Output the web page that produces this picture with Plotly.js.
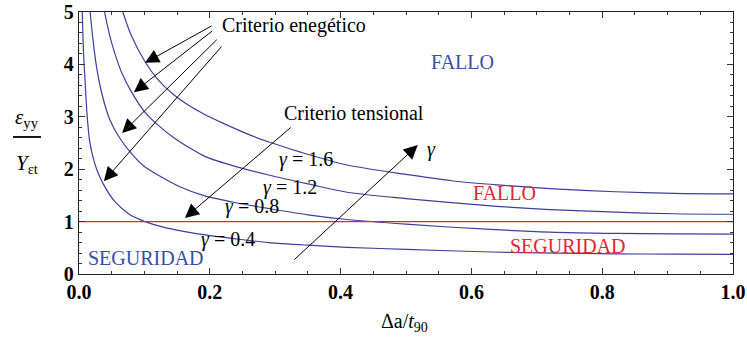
<!DOCTYPE html>
<html><head><meta charset="utf-8">
<script src="https://cdn.plot.ly/plotly-3.0.1.min.js"></script>
<style>html,body{margin:0;padding:0;background:#fff}#c{width:747px;height:350px}</style>
</head><body><div id="c"></div>
<script>
// Data
const gammaLabels = ['γ = 0.4', 'γ = 0.8', 'γ = 1.2', 'γ = 1.6'];
const x_g04 = [0.005, 0.007, 0.009, 0.012, 0.016, 0.021, 0.027, 0.037, 0.055, 0.078, 0.101, 0.13, 0.162, 0.19, 0.24, 0.29, 0.35, 0.41, 0.5, 0.63, 0.73, 0.82, 0.91, 1.0];
const y_g04 = [5.0, 4.2, 3.75, 3.1, 2.56, 2.25, 2.0, 1.72, 1.38, 1.13, 1.0, 0.89, 0.81, 0.75, 0.67, 0.60, 0.55, 0.51, 0.47, 0.42, 0.40, 0.385, 0.38, 0.375];
const x_g08 = [0.017, 0.022, 0.027, 0.035, 0.047, 0.062, 0.08, 0.1, 0.126, 0.155, 0.19, 0.24, 0.29, 0.35, 0.41, 0.5, 0.63, 0.72, 0.82, 0.91, 1.0];
const y_g08 = [5.0, 4.4, 3.94, 3.44, 2.95, 2.6, 2.3, 2.05, 1.85, 1.66, 1.5, 1.36, 1.25, 1.13, 1.04, 0.95, 0.85, 0.8, 0.775, 0.765, 0.76];
const x_g12 = [0.039, 0.047, 0.055, 0.065, 0.08, 0.1, 0.12, 0.145, 0.17, 0.193, 0.24, 0.29, 0.35, 0.41, 0.5, 0.63, 0.72, 0.82, 0.91, 1.0];
const y_g12 = [5.0, 4.55, 4.2, 3.85, 3.48, 3.1, 2.85, 2.6, 2.4, 2.24, 2.05, 1.89, 1.72, 1.56, 1.44, 1.3, 1.23, 1.18, 1.15, 1.14];
const x_g16 = [0.067, 0.08, 0.101, 0.12, 0.145, 0.17, 0.19, 0.22, 0.26, 0.3, 0.34, 0.41, 0.5, 0.57, 0.64, 0.72, 0.82, 0.91, 1.0];
const y_g16 = [5.0, 4.55, 4.05, 3.72, 3.42, 3.2, 3.06, 2.88, 2.66, 2.48, 2.32, 2.08, 1.9, 1.78, 1.70, 1.63, 1.57, 1.54, 1.53];
const x_limit = [0, 1];
const y_limit = [1, 1];
const xTickVals = [0, 0.2, 0.4, 0.6, 0.8, 1.0];
const xTickText = ['0.0', '0.2', '0.4', '0.6', '0.8', '1.0'];
const yTickVals = [0, 1, 2, 3, 4, 5];

const curveColor = '#3c3f9c';
const serif = '"Liberation Serif", serif';
const curves = [[x_g04, y_g04], [x_g08, y_g08], [x_g12, y_g12], [x_g16, y_g16]];
const traces = curves.map((c, i) => ({
  x: c[0], y: c[1], type: 'scatter', mode: 'lines', name: gammaLabels[i],
  line: {color: curveColor, width: 1.2, shape: 'spline', smoothing: 0.8}, hoverinfo: 'skip'
}));
traces.push({x: x_limit, y: y_limit, type: 'scatter', mode: 'lines', name: 'límite',
  line: {color: '#e3262f', width: 1.2}, hoverinfo: 'skip'});

function txt(x, y, text, size, color, extra) {
  return Object.assign({x: x, y: y, xref: 'x', yref: 'y', text: text, showarrow: false,
    font: {family: serif, size: size, color: color}}, extra || {});
}
function arrow(x0, y0, x1, y1) {
  return {x: x1, y: y1, ax: x0, ay: y0, xref: 'x', yref: 'y', axref: 'x', ayref: 'y',
    text: '', showarrow: true, arrowhead: 2, arrowsize: 2.8, arrowwidth: 1, arrowcolor: '#000'};
}
const blue = '#3550a8', red = '#e3262f';
const annotations = [
  txt(0.215, 4.75, 'Criterio enegético', 20, '#000', {xanchor: 'left'}),
  arrow(0.205, 4.75, 0.101, 4.03),
  arrow(0.206, 4.66, 0.084, 3.47),
  arrow(0.213, 4.50, 0.066, 2.69),
  arrow(0.220, 4.37, 0.038, 1.77),
  txt(0.31, 3.07, 'Criterio tensional', 20, '#000', {xanchor: 'left'}),
  arrow(0.326, 2.82, 0.162, 1.07),
  arrow(0.327, 0.248, 0.518, 2.46),
  txt(0.529, 2.37, '<i>γ</i>', 20, '#000', {xanchor: 'left'}),
  txt(0.347, 2.19, '<i>γ</i> = 1.6', 20, '#000'),
  txt(0.323, 1.66, '<i>γ</i> = 1.2', 20, '#000'),
  txt(0.264, 1.28, '<i>γ</i> = 0.8', 20, '#000'),
  txt(0.228, 0.65, '<i>γ</i> = 0.4', 20, '#000'),
  txt(0.586, 4.05, 'FALLO', 20, blue),
  txt(0.102, 0.31, 'SEGURIDAD', 20, blue),
  txt(0.650, 1.55, 'FALLO', 20, red),
  txt(0.748, 0.53, 'SEGURIDAD', 20, red),
  {x: -0.0795, y: 0.595, xref: 'paper', yref: 'paper', showarrow: false, xanchor: 'center',
   text: '<i>ε</i><sub>yy</sub>', font: {family: serif, size: 21, color: '#000'}},
  {x: -0.0795, y: 0.42, xref: 'paper', yref: 'paper', showarrow: false, xanchor: 'center',
   text: '<i>Y</i><sub>εt</sub>', font: {family: serif, size: 21, color: '#000'}},
  {x: 0.498, y: -0.24, xref: 'paper', yref: 'paper', showarrow: false,
   text: 'Δa/<i>t</i><sub>90</sub>', font: {family: serif, size: 20, color: '#000'}}
];

const tickFont = {family: serif, size: 20, color: '#000', weight: 'bold'};
const axisCommon = {
  showgrid: false, zeroline: false, showline: true, linecolor: '#222', linewidth: 1.3,
  mirror: 'ticks', ticks: 'inside', ticklen: 6, tickwidth: 1.2, tickcolor: '#333',
  tickfont: tickFont, fixedrange: true
};
const layout = {
  width: 747, height: 350,
  font: {family: serif, size: 18, color: '#000'},
  margin: {l: 79, r: 14, t: 12, b: 76},
  paper_bgcolor: '#fff', plot_bgcolor: '#fff', showlegend: false,
  xaxis: Object.assign({}, axisCommon, {range: [0, 1], tickvals: xTickVals, ticktext: xTickText,
    tickfont: tickFont,
    minor: {dtick: 0.05, ticks: 'inside', ticklen: 3, tickwidth: 1, tickcolor: '#333'}}),
  yaxis: Object.assign({}, axisCommon, {range: [0, 5], tickvals: yTickVals,
    tickfont: tickFont,
    minor: {dtick: 0.2, ticks: 'inside', ticklen: 3, tickwidth: 1, tickcolor: '#333'}}),
  annotations: annotations,
  shapes: [{type: 'line', xref: 'paper', yref: 'paper', x0: -0.1009, x1: -0.0581, y0: 0.523, y1: 0.523,
    line: {color: '#000', width: 1.8}}]
};
Plotly.newPlot('c', traces, layout, {displayModeBar: false, staticPlot: true});
</script>
</body></html>
